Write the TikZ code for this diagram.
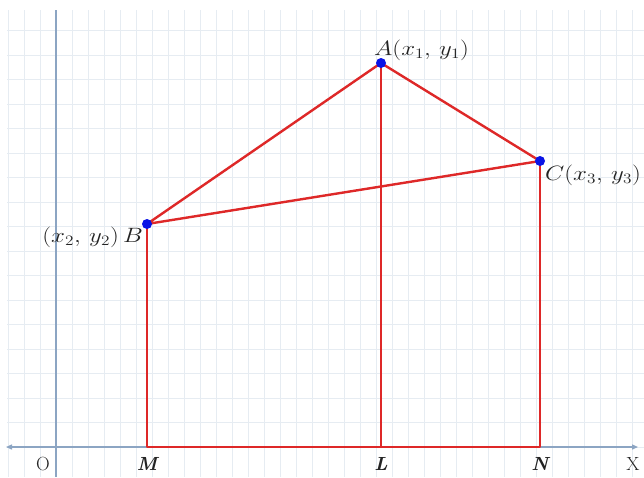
\documentclass[tikz,border=0pt]{standalone}
\usepackage{graphicx}
\usetikzlibrary{arrows.meta}
\definecolor{gridc}{RGB}{230,236,242}
\definecolor{axisc}{RGB}{140,165,195}
\definecolor{redl}{RGB}{222,40,40}
\definecolor{dotc}{RGB}{10,20,230}
\definecolor{txt}{RGB}{35,35,35}
\newcommand{\widelbl}[1]{\scalebox{1.2}[1]{#1}}
\begin{document}
\begin{tikzpicture}[x=1pt,y=-1pt,
  gridline/.style={gridc,line width=0.8pt},
  axisline/.style={axisc,line width=1.3pt},
  redline/.style={redl,line width=2.4pt,line cap=round,line join=round},
  pt/.style={circle,fill=dotc,inner sep=0pt,minimum size=10pt},
  lbl/.style={text=txt,font=\fontsize{20}{24}\selectfont,inner sep=0pt},
  axlbl/.style={text=txt,font=\fontsize{19}{22}\selectfont,inner sep=0pt}]
\useasboundingbox (0,0) rectangle (644,477);
\fill[white] (0,0) rectangle (644,477);
% grid
\foreach \k in {0,...,39} {\draw[gridline] (8+16*\k,10) -- (8+16*\k,477);}
\foreach \k in {0,...,17} {\draw[gridline] (7,447-24.5*\k) -- (644,447-24.5*\k);}
% axes
\coordinate (ytop) at (56,10);
\coordinate (ybot) at (56,477);
\coordinate (xl) at (6,447);
\coordinate (xr) at (638,447);
\draw[axisline] (ytop) -- (ybot);
\draw[axisline,{Triangle[length=6pt,width=5pt]}-{Triangle[length=6pt,width=5pt]}] (xl) -- (xr);
% points
\coordinate (A) at (381,63);
\coordinate (B) at (147,224);
\coordinate (C) at (540,161);
\coordinate (M) at (147,447);
\coordinate (L) at (381,447);
\coordinate (N) at (540,447);
\draw[redline] (B) -- (A) -- (C) -- cycle;
\draw[redline] (A) -- (L);
\draw[redline] (B) -- (M) -- (N) -- (C);
\node[pt] (Ad) at (A) {};
\node[pt] (Bd) at (B) {};
\node[pt] (Cd) at (C) {};
% labels
\node[lbl,anchor=base west] (Al) at (374,55) {\widelbl{$A(x_1,\,y_1)$}};
\node[lbl,anchor=base west] (Cl) at (545,180) {\widelbl{$C(x_3,\,y_3)$}};
\node[lbl,anchor=base east] (Bl) at (143,242) {\widelbl{$(x_2,\,y_2)\,B$}};
\node[axlbl,anchor=base] (Ol) at (43,470) {O};
\node[axlbl,anchor=base] (Ml) at (147,470) {\bfseries\itshape M};
\node[axlbl,anchor=base] (Ll) at (381,470) {\bfseries\itshape L};
\node[axlbl,anchor=base] (Nl) at (540,470) {\bfseries\itshape N};
\node[axlbl,anchor=base] (Xl) at (633,470) {X};
\end{tikzpicture}
\end{document}
